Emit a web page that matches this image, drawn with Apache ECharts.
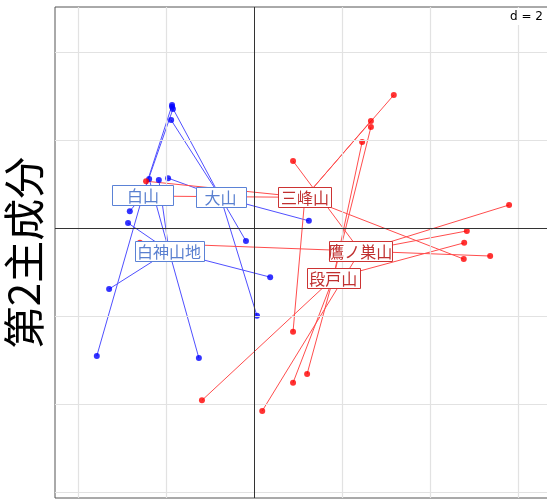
<!DOCTYPE html>
<html>
<head>
<meta charset="utf-8">
<script src="https://cdn.jsdelivr.net/npm/echarts@6/dist/echarts.min.js"></script>
<style>
  html, body { margin: 0; padding: 0; background: #ffffff; }
  #chart { width: 547px; height: 501px; }
</style>
</head>
<body>
<div id="chart"></div>
<script>
// Group names (factor levels) and their scores on axes 1 and 2
const groupNames = ['白山', '大山', '白神山地', '三峰山', '鷹ノ巣山', '段戸山'];

const hakusanX   = [-1.87, -1.85, -3.58, -2.83];
const hakusanY   = [ 2.80,  2.71, -2.90,  0.39];

const daisenX    = [-1.87, -1.89, -1.96, -0.19, 0.06, 1.24];
const daisenY    = [ 2.76,  2.46,  1.14, -0.29, -1.99, 0.17];

const shirakamiX = [-2.39, -2.17, -2.87, -3.30, -1.26, 0.36];
const shirakamiY = [ 1.12,  1.10,  0.12, -1.38, -2.95, -1.11];

const mitsumineX = [-2.46, -2.10, 3.17, 2.65,  0.88,  4.76];
const mitsumineY = [ 1.07,  0.73, 3.03, 2.44, -2.35, -0.70];

const takanosuX  = [0.88, 5.79,  4.83,  5.36,  0.18, -2.60];
const takanosuY  = [1.53, 0.53, -0.06, -0.63, -4.15, -0.33];

const dandoX     = [2.65, 2.45,  4.77, -1.19,  1.20,  0.88];
const dandoY     = [2.30, 1.96, -0.33, -3.91, -3.31, -3.51];

// Grid graduations (d = 2)
const gridTicksX = [-4, -2, 2, 4, 6];
const gridTicksY = [-6, -4, -2, 2, 4];
const gridStep = 2;

const axisTitle = '第2主成分';

// ---- styling ----
const BLUE = { point: '#0000ff', line: '#5050ff', text: '#5a80d0', border: '#5b82d6' };
const RED  = { point: '#ff0000', line: '#ff4d4d', text: '#c03030', border: '#cc3333' };
const groupStyle = {
  '白山':     { c: BLUE, w: 61 },
  '大山':     { c: BLUE, w: 50 },
  '白神山地': { c: BLUE, w: 69 },
  '三峰山':   { c: RED,  w: 53 },
  '鷹ノ巣山': { c: RED,  w: 63 },
  '段戸山':   { c: RED,  w: 53 }
};
const LABEL_H = 20;
const CJK = '"Noto Sans CJK JP", "Noto Sans CJK SC", sans-serif';

const groupX = [hakusanX, daisenX, shirakamiX, mitsumineX, takanosuX, dandoX];
const groupY = [hakusanY, daisenY, shirakamiY, mitsumineY, takanosuY, dandoY];

function mean(a) { return a.reduce((s, v) => s + v, 0) / a.length; }

const series = [];

// background grid and the two zero axes
series.push({
  type: 'scatter', data: [], silent: true, z: 0,
  markLine: {
    silent: true, symbol: 'none', animation: false,
    label: { show: false },
    lineStyle: { color: '#e2e2e2', width: 1.2, type: 'solid' },
    data: gridTicksX.map(v => ({ xAxis: v })).concat(gridTicksY.map(v => ({ yAxis: v })))
  }
});
series.push({
  type: 'scatter', data: [], silent: true, z: 1,
  markLine: {
    silent: true, symbol: 'none', animation: false,
    label: { show: false },
    lineStyle: { color: '#333333', width: 1, type: 'solid' },
    data: [{ xAxis: 0 }, { yAxis: 0 }]
  }
});

const centres = [];
groupNames.forEach((name, g) => {
  const xs = groupX[g], ys = groupY[g];
  const cx = mean(xs), cy = mean(ys);
  centres.push([cx, cy]);
  const st = groupStyle[name].c;
  // star: each observation joined to its group centre
  series.push({
    type: 'lines', coordinateSystem: 'cartesian2d', silent: true, z: 2,
    lineStyle: { color: st.line, width: 1, opacity: 1 },
    data: xs.map((x, i) => ({ coords: [[x, ys[i]], [cx, cy]] }))
  });
  series.push({
    type: 'scatter', silent: true, z: 3,
    symbol: 'circle', symbolSize: 6,
    itemStyle: { color: st.point },
    data: xs.map((x, i) => [x, ys[i]])
  });
});

// group labels: white boxes drawn at the centres, above the stars
const labelOrder = ['白山', '大山', '白神山地', '三峰山', '鷹ノ巣山', '段戸山'];
series.push({
  type: 'custom', silent: true, z: 20,
  data: labelOrder.map(name => {
    const g = groupNames.indexOf(name);
    return { value: centres[g], name: name };
  }),
  renderItem: function (params, api) {
    const name = labelOrder[params.dataIndex];
    const s = groupStyle[name];
    const p = api.coord([api.value(0), api.value(1)]);
    const x0 = Math.round(p[0] - s.w / 2) + 0.5;
    const y0 = Math.round(p[1] - LABEL_H / 2) + 0.5;
    return {
      type: 'group',
      children: [
        { type: 'rect', shape: { x: x0, y: y0, width: s.w, height: LABEL_H },
          style: { fill: '#ffffff', stroke: s.c.border, lineWidth: 1 } },
        { type: 'text', x: p[0], y: p[1] + 1,
          style: { text: name, fill: s.c.text, font: '16px ' + CJK,
                   align: 'center', verticalAlign: 'middle' } }
      ]
    };
  }
});

const chart = echarts.init(document.getElementById('chart'), null, { renderer: 'canvas' });
chart.setOption({
  animation: false,
  backgroundColor: '#ffffff',
  grid: {
    left: 55, top: 7, width: 495, height: 491,
    outerBoundsMode: 'none', containLabel: false,
    show: true, borderColor: '#555555', borderWidth: 1, backgroundColor: 'transparent'
  },
  xAxis: {
    type: 'value', min: -4.53, max: 6.72,
    axisLine: { show: false }, axisTick: { show: false },
    axisLabel: { show: false }, splitLine: { show: false }
  },
  yAxis: {
    type: 'value', min: -6.13, max: 5.03,
    axisLine: { show: false }, axisTick: { show: false },
    axisLabel: { show: false }, splitLine: { show: false },
    name: axisTitle, nameLocation: 'middle', nameRotate: 90, nameGap: 10,
    nameTextStyle: { fontFamily: CJK, fontSize: 42, color: '#000000' }
  },
  graphic: [
    { type: 'rect', left: 509, top: 8, shape: { width: 40, height: 17 }, style: { fill: '#ffffff' }, z: 50 },
    { type: 'text', right: 4, top: 11, style: { text: 'd = ' + gridStep, font: '12px "DejaVu Sans", sans-serif', fill: '#000000' }, z: 51 }
  ],
  series: series
});
</script>
</body>
</html>
